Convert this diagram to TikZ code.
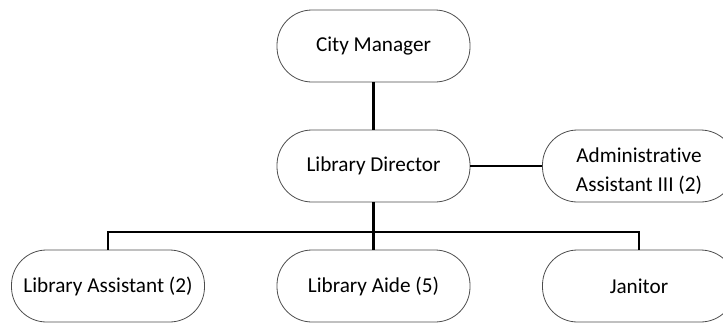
\documentclass[tikz,border=0pt]{standalone}
\usepackage{fontspec}
\setmainfont[Ligatures={NoCommon}]{Carlito}
\begin{document}
\begin{tikzpicture}[x=1pt,y=-1pt,
  pill/.style={draw=black!70, line width=0.8pt, rounded corners=35pt,
    minimum width=193pt, minimum height=72pt, inner sep=0pt, align=center,
    font=\fontsize{21.2pt}{29pt}\selectfont},
  pilltext/.style={inner sep=0pt, align=center,
    font=\fontsize{21.2pt}{29pt}\selectfont},
  thick line/.style={line width=3.2pt},
  thin line/.style={line width=2pt}]
\useasboundingbox (0,0) rectangle (723,322);
\clip (0,0) rectangle (723,322);
\node[pill] (cm) at (373.5,46) {City Manager};
\node[pill] (ld) at (373.5,166) {Library Director};
\node[pill] (aa) at (639,166) {};
\node[pilltext] (aat) at (639,171) {Administrative\\Assistant III (2)};
\node[pill] (las) at (108,286) {Library Assistant (2)};
\node[pill] (lai) at (373.5,286) {Library Aide (5)};
\node[pill] (jan) at (639,286) {Janitor};
\coordinate (bus) at (373.5,232);
\draw[thick line] (cm.south) -- (ld.north);
\draw[thin line] (ld.east) -- (aa.west);
\draw[thick line] (ld.south) -- (bus);
\draw[thin line] (las.north) |- (bus) -| (jan.north);
\draw[thick line] (bus) -- (lai.north);
\end{tikzpicture}
\end{document}
